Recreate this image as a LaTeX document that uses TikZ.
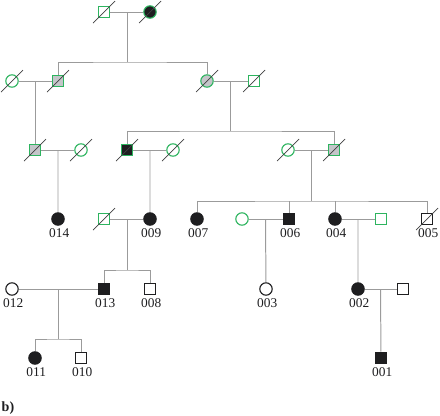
\documentclass[tikz,border=0pt]{standalone}
\usepackage{fontspec}
\setmainfont{Liberation Serif}
\usetikzlibrary{calc}
\definecolor{ink}{RGB}{30,30,32}
\definecolor{leaf}{RGB}{45,180,95}
\definecolor{ash}{RGB}{196,197,201}
\definecolor{wire}{RGB}{155,155,155}
\tikzset{
  male/.style={rectangle,draw=#1,line width=0.8pt,fill=white,minimum size=2.9mm,inner sep=0pt},
  male/.default=ink,
  female/.style={circle,draw=#1,line width=0.8pt,fill=white,minimum size=3.1mm,inner sep=0pt},
  female/.default=ink,
  affected/.style={fill=ink},
  carrier/.style={fill=ash},
  tag/.style={font=\fontsize{9.5}{11}\selectfont,text=ink,inner sep=1pt},
  num/.style={label={[tag,label distance=0.4mm,xshift=0.3mm]below:#1}},
  kin/.style={draw=wire,line width=0.7pt},
  gone/.style={draw=ink!85,line width=0.5pt},
}

\begin{document}
\begin{tikzpicture}[x=0.025cm,y=-0.025cm]
  \useasboundingbox (0,0) rectangle (440,415);
  % generation I
  \node[male=leaf] (a1) at (104,12) {};
  \node[female=leaf,affected] (a2) at (150,12) {};
  % generation II
  \node[female=leaf] (b1) at (12,81) {};
  \node[male=leaf,carrier] (b2) at (58,81) {};
  \node[female=leaf,carrier] (b3) at (207,81) {};
  \node[male=leaf] (b4) at (254,81) {};
  % generation III
  \node[male=leaf,carrier] (c1) at (35,150) {};
  \node[female=leaf] (c2) at (81,150) {};
  \node[male=leaf,affected] (c3) at (127,150) {};
  \node[female=leaf] (c4) at (173,150) {};
  \node[female=leaf] (c5) at (288,150) {};
  \node[male=leaf,carrier] (c6) at (334,150) {};
  % generation IV
  \node[female,affected,num=014] (d1) at (58,219) {};
  \node[male=leaf] (d2) at (104,219) {};
  \node[female,affected,num=009] (d3) at (150,219) {};
  \node[female,affected,num=007] (d4) at (197,219) {};
  \node[female=leaf] (d5) at (242,219) {};
  \node[male,affected,num=006] (d6) at (289,219) {};
  \node[female,affected,num=004] (d7) at (335,219) {};
  \node[male=leaf] (d8) at (381,219) {};
  \node[male,num=005] (d9) at (427,219) {};
  % generation V
  \node[female,num=012] (e1) at (12,289) {};
  \node[male,affected,num=013] (e2) at (104,289) {};
  \node[male,num=008] (e3) at (150,289) {};
  \node[female,num=003] (e4) at (266,289) {};
  \node[female,affected,num=002] (e5) at (358,289) {};
  \node[male] (e6) at (403,289) {};
  % generation VI
  \node[female,affected,num=011] (f1) at (35,358) {};
  \node[male,num=010] (f2) at (81,358) {};
  \node[male,affected,num=001] (f3) at (381,358) {};

  % couples
  \foreach \p/\q/\m in {a1/a2/m1,b1/b2/m2,b3/b4/m3,c1/c2/m4,c3/c4/m5,c5/c6/m6,
      d2/d3/m7,d5/d6/m8,d7/d8/m9,e1/e2/m10,e5/e6/m11}{
    \draw[kin] (\p) -- (\q);
    \coordinate (\m) at ($(\p)!0.5!(\q)$);
  }
  % sibships
  \coordinate (s1) at (m1 |- 0,62);
  \coordinate (s2) at (m3 |- 0,131);
  \coordinate (s3) at (m6 |- 0,201);
  \coordinate (s4) at (m7 |- 0,270);
  \coordinate (s5) at (m10 |- 0,339);
  \draw[kin] (m1) -- (s1);
  \draw[kin] (b2) |- (s1) -| (b3);
  \draw[kin] (m2) -- (c1);
  \draw[kin] (m3) -- (s2);
  \draw[kin] (c3) |- (s2) -| (c6);
  \draw[kin] (m4) -- (d1);
  \draw[kin] (m5) -- (d3);
  \draw[kin] (m6) -- (s3);
  \draw[kin] (d4) |- (s3) -| (d9);
  \draw[kin] (d6) -- (d6 |- s3);
  \draw[kin] (d7) -- (d7 |- s3);
  \draw[kin] (m7) -- (s4);
  \draw[kin] (e2) |- (s4) -| (e3);
  \draw[kin] (m8) -- (e4);
  \draw[kin] (m9) -- (e5);
  \draw[kin] (m10) -- (s5);
  \draw[kin] (f1) |- (s5) -| (f2);
  \draw[kin] (m11) -- (f3);

  % deceased
  \foreach \n in {a1,a2,b1,b2,b3,b4,c1,c2,c3,c4,c5,c6,d2,d9}
    \draw[gone] (\n) ++(-11,11) -- ++(22,-22);

  \node[tag,font=\bfseries\fontsize{10}{12}\selectfont,anchor=west] (cap) at (0,408) {b)};
\end{tikzpicture}
\end{document}
